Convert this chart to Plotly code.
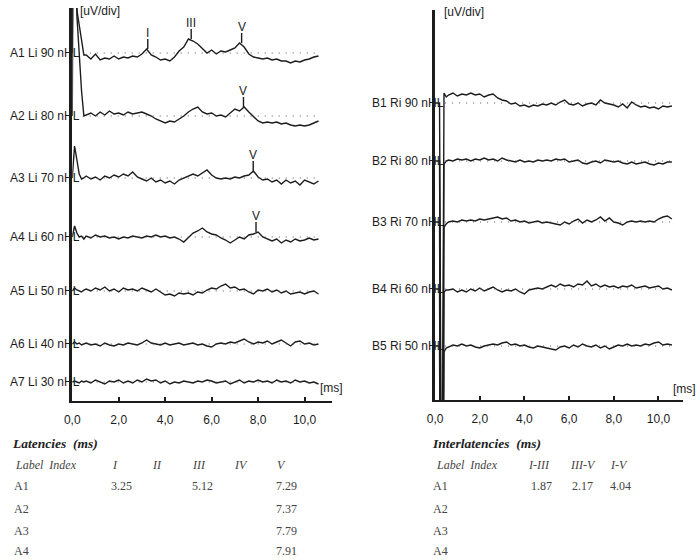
import numpy as np
import plotly.graph_objects as go

# ---------------- data ----------------
TIME_EARLY = [0.0, 0.1, 0.2, 0.3, 0.4, 0.5]
TIME_MAIN = [round(0.6 + 0.2 * i, 1) for i in range(51)]  # 0.6 .. 10.6 ms

TICK_VALUES = [0, 2, 4, 6, 8, 10]
TICK_TEXT = ["0,0", "2,0", "4,0", "6,0", "8,0", "10,0"]

LEFT_LABELS = ["A1 Li 90 nHL", "A2 Li 80 nHL", "A3 Li 70 nHL", "A4 Li 60 nHL",
               "A5 Li 50 nHL", "A6 Li 40 nHL", "A7 Li 30 nHL"]
RIGHT_LABELS = ["B1 Ri 90 nHL", "B2 Ri 80 nHL", "B3 Ri 70 nHL", "B4 Ri 60 nHL",
                "B5 Ri 50 nHL"]

# waveform amplitudes (arbitrary display units, up = positive)
A1_EARLY = [0, 500, 43, 28, 13, -2]
A1_WAVE = [-2, -6, -1, -7, -5, -6, -3, -6, -4, -5, -3, -4, -1, 4, -2, -4, -7, -6, -8, -4,
           2, 6, 14, 12, 9, 4, 0, 3, -1, 2, 1, 3, 5, 10, 6, -1, -4, -5, -6, -5,
           -7, -6, -8, -8, -10, -8, -9, -7, -6, -4, -3]
A2_EARLY = [0, 500, 100, 62, 25, 0]
A2_WAVE = [1, 3, 0, 4, 1, 5, 2, 3, 1, 4, 2, 3, 4, 2, 0, -3, -5, -7, -5, -6,
           -3, 0, 4, 7, 9, 4, 2, 3, 0, 1, -1, 3, 7, 5, 9, 4, -1, -5, -7, -6,
           -7, -6, -8, -7, -9, -10, -9, -10, -9, -7, -5]
A3_EARLY = [0, 32, 18, 4, -1, 0]
A3_WAVE = [2, -1, 1, -2, 2, 0, 3, 1, 4, 2, 6, 1, -1, -3, 0, -4, -2, -5, -3, -6,
           -2, 0, 2, 4, 2, 5, 8, 3, 0, -1, 0, -1, 1, 0, 2, 3, 7, 1, -2, -1,
           -4, -2, -6, -2, -5, -3, -7, -2, -4, -6, -3]
A4_EARLY = [0, 11, 4, 0, 1, -2]
A4_WAVE = [1, -1, 2, 0, 1, -1, 0, -2, 0, -1, 1, 0, -1, 1, 0, 2, 0, 1, -1, 0,
           -2, -5, 0, 4, 6, 9, 5, 3, 2, -1, -3, -6, -3, 0, -2, 2, 3, 5, 0, -2,
           -4, -2, -6, -3, -5, -2, -4, -3, -1, -3, -2]
A5_EARLY = [0, 3, 1, 0, -1, 1]
A5_WAVE = [2, 0, 3, 1, 4, 0, 2, -1, 3, 1, 2, 0, 3, 1, -1, 2, -1, -4, -3, -5,
           -2, -3, -2, -4, -1, -2, 1, 3, 2, 5, 7, 3, 4, 1, 2, -1, -3, 1, 0, 2,
           -1, 1, -2, 0, -3, -2, -1, -3, -1, 0, -3]
A6_EARLY = [0, 2, 0, 1, -1, 0]
A6_WAVE = [1, -1, 0, -2, 1, -1, -2, 0, -1, 1, 0, -1, 1, 4, 1, 0, -1, 1, -1, 0,
           1, -1, 0, 1, -1, 0, -2, -3, 0, 1, 0, 2, 1, 3, 5, 2, 0, 2, 1, 3,
           0, 2, 4, 1, -2, 2, 3, 0, 1, -1, 0]
A7_EARLY = [0, 1, 0, -1, 1, 0]
A7_WAVE = [1, -1, 2, 0, -2, 1, 0, 2, -1, 1, -1, 2, 0, 3, 1, 2, -1, 1, -2, 0,
           -1, 1, 0, -1, 1, 0, 2, 1, -1, 0, 1, -2, 0, 2, -1, 1, 0, 2, 0, 1,
           -1, 2, 0, 1, -1, 2, 0, 1, -1, 0, -2]

B1_EARLY = [0, 0, 0, -500, 10, 6]
B1_WAVE = [8, 10, 7, 9, 8, 10, 8, 9, 6, 8, 9, 5, 3, 2, -1, 0, -3, -2, -4, -2,
           -3, -1, -2, 0, -2, 1, 3, -1, -2, 0, -3, -1, 0, -2, 3, 0, -1, -2, -4, -1,
           -5, 1, -2, -4, -3, -5, -4, -6, -3, -4, -3]
B2_EARLY = [0, 0, 0, -500, -3, 0]
B2_WAVE = [1, 0, 2, 1, 2, 0, 2, 1, 3, 1, 2, 0, 3, 1, 0, -1, 1, -1, 0, -1,
           1, 0, 1, 0, 2, 1, 2, -1, 0, 1, -2, -3, -1, 0, -2, 1, 0, -1, 0, -2,
           -3, -1, -3, -2, -1, -3, -4, -2, -3, -1, -1]
B3_EARLY = [0, 0, 0, -500, -5, -2]
B3_WAVE = [0, 1, 0, 2, 1, 2, 1, 3, 2, 3, 4, 5, 3, 4, 1, 2, 0, 1, -1, 0,
           1, -1, 0, -1, -2, -3, 0, -2, 1, 3, -1, 2, 0, 2, 5, 1, 4, 0, -1, -3,
           0, 1, 0, 1, 0, 1, 0, 3, 5, 6, 3]
B4_EARLY = [0, 0, 0, -500, -3, -1]
B4_WAVE = [-1, 0, -3, -1, -3, 0, -2, 1, -2, 0, 2, -1, -3, -1, -2, 0, -3, -5, -1, 0,
           1, 0, 2, 4, 2, 5, 3, 4, 2, 5, 4, 8, 3, 5, 2, 4, 2, 3, 1, 3,
           2, 4, 1, 2, 3, 1, 2, 3, 0, 1, -1]
B5_EARLY = [0, 0, 0, -500, -6, -2]
B5_WAVE = [-1, 1, 0, 2, 0, 1, -1, -2, 0, 1, 2, 1, 3, 4, 1, 2, 0, 1, -1, -2,
           0, -1, -2, -3, -4, -1, 0, -2, 1, -1, 2, 0, -1, 1, -2, 0, -3, -1, 1, 0,
           2, 0, 1, 0, 2, 1, 3, 4, 1, 2, 1]

LEFT_EARLY = [A1_EARLY, A2_EARLY, A3_EARLY, A4_EARLY, A5_EARLY, A6_EARLY, A7_EARLY]
LEFT_WAVES = [A1_WAVE, A2_WAVE, A3_WAVE, A4_WAVE, A5_WAVE, A6_WAVE, A7_WAVE]
RIGHT_EARLY = [B1_EARLY, B2_EARLY, B3_EARLY, B4_EARLY, B5_EARLY]
RIGHT_WAVES = [B1_WAVE, B2_WAVE, B3_WAVE, B4_WAVE, B5_WAVE]

# tables
LAT_COLS = ["I", "II", "III", "IV", "V"]
LAT_ROWS = ["A1", "A2", "A3", "A4"]
LAT_VALUES = [[3.25, None, 5.12, None, 7.29],
              [None, None, None, None, 7.37],
              [None, None, None, None, 7.79],
              [None, None, None, None, 7.91]]
INT_COLS = ["I-III", "III-V", "I-V"]
INT_ROWS = ["A1", "A2", "A3", "A4"]
INT_VALUES = [[1.87, 2.17, 4.04],
              [None, None, None],
              [None, None, None],
              [None, None, None]]

# ---------------- layout constants ----------------
W, H = 700, 560
LEFT_OFFSETS = [348, 285, 223, 164, 110, 57, 19]
RIGHT_OFFSETS = [297, 239, 178, 111, 54]
INK = "#1c1c1c"
SANS = "Liberation Sans"
SERIF = "Liberation Serif"

fig = go.Figure()


def add_panel(early, waves, offsets, xa, ya):
    times = TIME_EARLY + TIME_MAIN
    for e, w, o in zip(early, waves, offsets):
        vals = e + w
        fig.add_trace(go.Scatter(x=times, y=[o + v for v in vals], mode="lines",
                                 line=dict(color=INK, width=1.4),
                                 xaxis=xa, yaxis=ya, hoverinfo="skip", showlegend=False))
        fig.add_trace(go.Scatter(x=[0.45, TIME_MAIN[-1]], y=[o, o], mode="lines",
                                 line=dict(color="#555", width=1, dash="1px,6px"),
                                 xaxis=xa, yaxis=ya, hoverinfo="skip", showlegend=False))


add_panel(LEFT_EARLY, LEFT_WAVES, LEFT_OFFSETS, "x", "y")
add_panel(RIGHT_EARLY, RIGHT_WAVES, RIGHT_OFFSETS, "x2", "y2")

annotations = []

# peak markers from latency table
tm = np.array(TIME_MAIN)
for r, row in enumerate(LAT_VALUES):
    wave = np.array(LEFT_WAVES[r])
    o = LEFT_OFFSETS[r]
    for c, v in enumerate(row):
        if v is None:
            continue
        near = np.abs(tm - v) <= 0.15
        base = o + wave[near].max()
        fig.add_trace(go.Scatter(x=[v, v], y=[base, base + 10], mode="lines",
                                 line=dict(color=INK, width=1.4),
                                 xaxis="x", yaxis="y", hoverinfo="skip", showlegend=False))
        annotations.append(dict(x=v, y=base + 10, xref="x", yref="y", text=LAT_COLS[c],
                                showarrow=False, xanchor="center", yanchor="bottom",
                                yshift=-3, font=dict(family=SANS, size=12, color=INK)))

# trace labels (centred at pixel positions)
for lab, o in zip(LEFT_LABELS, LEFT_OFFSETS):
    annotations.append(dict(x=37 / W, y=o, xref="paper", yref="y", text=lab, showarrow=False,
                            xanchor="center", yanchor="middle",
                            font=dict(family=SANS, size=12, color=INK)))
for lab, o in zip(RIGHT_LABELS, RIGHT_OFFSETS):
    annotations.append(dict(x=405 / W, y=o, xref="paper", yref="y2", text=lab, showarrow=False,
                            xanchor="center", yanchor="middle",
                            font=dict(family=SANS, size=12, color=INK)))


def ptext(cx, cy, text, size=12, family=SANS, color=INK):
    annotations.append(dict(x=cx / W, y=1 - cy / H, xref="paper", yref="paper", text=text,
                            showarrow=False, xanchor="center", yanchor="middle",
                            font=dict(family=family, size=size, color=color)))


ptext(93, 11, "[uV/div]")
ptext(461, 12, "[uV/div]")
ptext(327, 388, "[ms]")
ptext(684, 389, "[ms]")

# latencies table
ROW_Y = [486, 509, 531, 551]
ptext(48, 443, "<b><i>Latencies  (ms)</i></b>", size=13.5, family=SERIF, color="#222")
ptext(38, 465, "<i>Label  Index</i>", size=12, family=SERIF, color="#444")
LAT_COL_X = [108, 151, 193, 236, 277]
LAT_VAL_X = [115, 156, 197, 240, 282]
for cx, name in zip(LAT_COL_X, LAT_COLS):
    ptext(cx, 465, "<i>" + name + "</i>", size=12, family=SERIF, color="#444")
for ry, name, row in zip(ROW_Y, LAT_ROWS, LAT_VALUES):
    ptext(14, ry, name, size=12, family=SERIF, color="#444")
    for cx, v in zip(LAT_VAL_X, row):
        if v is not None:
            ptext(cx, ry, f"{v:.2f}", size=12, family=SERIF, color="#444")

# interlatencies table
ptext(484, 443, "<b><i>Interlatencies  (ms)</i></b>", size=13.5, family=SERIF, color="#222")
ptext(464, 465, "<i>Label  Index</i>", size=12, family=SERIF, color="#444")
INT_COL_X = [537, 582, 618]
INT_VAL_X = [540, 581, 620]
for cx, name in zip(INT_COL_X, INT_COLS):
    ptext(cx, 465, "<i>" + name + "</i>", size=12, family=SERIF, color="#444")
for ry, name, row in zip(ROW_Y, INT_ROWS, INT_VALUES):
    ptext(438, ry, name, size=12, family=SERIF, color="#444")
    for cx, v in zip(INT_VAL_X, row):
        if v is not None:
            ptext(cx, ry, f"{v:.2f}", size=12, family=SERIF, color="#444")

xcommon = dict(showline=True, linecolor=INK, linewidth=2, ticks="inside", ticklen=4,
               tickwidth=2, tickcolor=INK, tickvals=TICK_VALUES, ticktext=TICK_TEXT,
               showgrid=False, zeroline=False, ticklabelstandoff=7,
               tickfont=dict(family=SANS, size=12, color=INK))
ycommon = dict(showline=True, linecolor=INK, linewidth=3, showticklabels=False, ticks="",
               showgrid=False, zeroline=False)

fig.update_layout(
    width=W, height=H, margin=dict(l=0, r=0, t=0, b=0),
    paper_bgcolor="white", plot_bgcolor="rgba(0,0,0,0)", showlegend=False,
    xaxis=dict(domain=[65 / W, 328 / W], range=[0, 263 / 23.5], anchor="y", **xcommon),
    yaxis=dict(domain=[159 / H, 552 / H], range=[0, 393], anchor="x", **ycommon),
    xaxis2=dict(domain=[432 / W, 683 / W], range=[0, 251 / 22.6], anchor="y2", **xcommon),
    yaxis2=dict(domain=[160 / H, 550 / H], range=[0, 390], anchor="x2", **ycommon),
    annotations=annotations,
)

fig.write_html("out.html")
